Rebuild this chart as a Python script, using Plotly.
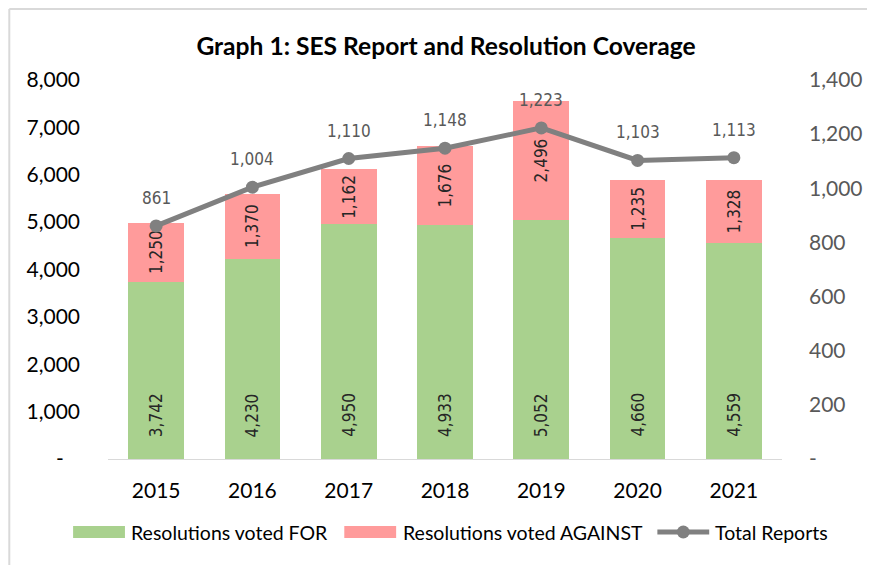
import plotly.graph_objects as go

years = ["2015", "2016", "2017", "2018", "2019", "2020", "2021"]
voted_for = [3742, 4230, 4950, 4933, 5052, 4660, 4559]
voted_against = [1250, 1370, 1162, 1676, 2496, 1235, 1328]
total_reports = [861, 1004, 1110, 1148, 1223, 1103, 1113]

left_ticks = [0, 1000, 2000, 3000, 4000, 5000, 6000, 7000, 8000]
right_ticks = [0, 200, 400, 600, 800, 1000, 1200, 1400]

series_names = ["Resolutions voted FOR", "Resolutions voted AGAINST", "Total Reports"]

NB = "\u00a0"

def fmt(v, pad=""):
    return "-" + pad if v == 0 else f"{v:,}"

GREEN = "#A9D18E"
RED = "#FF9B9B"
GRAY = "#808080"
LABEL_FONT = "Liberation Sans Narrow, DejaVu Sans Condensed, Roboto, sans-serif"
AXIS_FONT = "Lato, Open Sans, sans-serif"

# page body has an 8px margin: figure is laid out in page px minus 8
OFF = 8
W, H = 875 - OFF, 565 - OFF
L, R, T, B = 100, 91, 72, 106
PW = W - L - R
PH = H - T - B


def px(xpage):
    return (xpage - OFF - L) / PW


def py(ypage):
    return (H - B - (ypage - OFF)) / PH


fig = go.Figure()
fig.add_trace(go.Bar(
    x=years, y=voted_for, name=series_names[0], showlegend=False,
    marker=dict(color=GREEN, line=dict(width=0)),
))
fig.add_trace(go.Bar(
    x=years, y=voted_against, name=series_names[1], showlegend=False,
    marker=dict(color=RED, line=dict(width=0)),
    text=[f"{v:,}" for v in voted_against], textposition="inside",
    insidetextanchor="middle", textangle=-90,
    textfont=dict(family=LABEL_FONT, size=17, color="#262626"),
))
fig.add_trace(go.Scatter(
    x=years, y=total_reports, name=series_names[2], yaxis="y2",
    mode="lines+markers", showlegend=False,
    line=dict(color=GRAY, width=5),
    marker=dict(color=GRAY, size=13),
))

# labels at base of green bars (category index positions)
for i, v in enumerate(voted_for):
    fig.add_annotation(
        x=i, y=0, text=f"{v:,}", textangle=-90, showarrow=False,
        yanchor="bottom", yshift=20,
        font=dict(family=LABEL_FONT, size=17, color="#262626"),
    )

# labels above line points
for i, v in enumerate(total_reports):
    fig.add_annotation(
        x=i, y=v, yref="y2", text=f"{v:,}", showarrow=False,
        yanchor="middle", yshift=28,
        font=dict(family=LABEL_FONT, size=17, color="#595959"),
    )

fig.update_layout(
    width=W, height=H,
    paper_bgcolor="white", plot_bgcolor="white",
    margin=dict(l=L, r=R, t=T, b=B),
    barmode="stack", bargap=0.42,
    title=dict(text="<b>Graph 1: SES Report and Resolution Coverage</b>",
               x=(446 - OFF) / W, xanchor="center", y=1 - (46 - OFF) / H,
               yanchor="middle",
               font=dict(family=AXIS_FONT, size=24.6, color="#000000")),
    xaxis=dict(type="category", autotypenumbers="strict",
               range=[-0.5, len(years) - 0.5], showline=True,
               linecolor="#D9D9D9", linewidth=1, ticks="",
               tickfont=dict(family=AXIS_FONT, size=21, color="#000000"),
               ticklabelstandoff=13, showgrid=False),
    yaxis=dict(range=[0, 8000], tickvals=left_ticks,
               ticktext=[fmt(v, NB * 3) for v in left_ticks], showgrid=False,
               zeroline=False, showline=False, ticks="",
               tickfont=dict(family=AXIS_FONT, size=21, color="#000000"),
               ticklabelstandoff=27),
    yaxis2=dict(range=[0, 1400], tickvals=right_ticks,
                ticktext=[fmt(v) for v in right_ticks], overlaying="y",
                side="right", showgrid=False, zeroline=False, showline=False,
                ticks="",
                tickfont=dict(family=AXIS_FONT, size=21, color="#595959"),
                ticklabelstandoff=26),
    showlegend=False,
)

# ---- legend drawn below the plot (swatch, line symbol, labels)
LEG_Y = 532
fig.add_shape(type="rect", xref="paper", yref="paper",
              x0=px(73), x1=px(125), y0=py(LEG_Y - 6), y1=py(LEG_Y + 6),
              fillcolor=GREEN, line=dict(width=0))
fig.add_shape(type="rect", xref="paper", yref="paper",
              x0=px(345), x1=px(397), y0=py(LEG_Y - 6), y1=py(LEG_Y + 6),
              fillcolor=RED, line=dict(width=0))
fig.add_shape(type="line", xref="paper", yref="paper",
              x0=px(659), x1=px(711), y0=py(LEG_Y), y1=py(LEG_Y),
              line=dict(color=GRAY, width=5))
fig.add_shape(type="circle", xref="paper", yref="paper",
              x0=px(685 - 6.5), x1=px(685 + 6.5),
              y0=py(LEG_Y - 6.5), y1=py(LEG_Y + 6.5),
              fillcolor=GRAY, line=dict(width=0))
for xs, name in zip([129, 402, 715], series_names):
    fig.add_annotation(xref="paper", yref="paper", x=px(xs), y=py(LEG_Y),
                       text=name, showarrow=False, xanchor="left",
                       yanchor="middle",
                       font=dict(family=AXIS_FONT, size=19.5, color="#000000"))

# outer frame lines (top and left)
fig.add_shape(type="line", xref="paper", yref="paper",
              x0=px(OFF + 1), x1=px(875),
              y0=py(OFF + 1), y1=py(OFF + 1),
              line=dict(color="#D9D9D9", width=2))
fig.add_shape(type="line", xref="paper", yref="paper",
              x0=px(OFF + 1), x1=px(OFF + 1),
              y0=py(OFF + 1), y1=py(565),
              line=dict(color="#D9D9D9", width=2))

fig.write_html("out.html")
